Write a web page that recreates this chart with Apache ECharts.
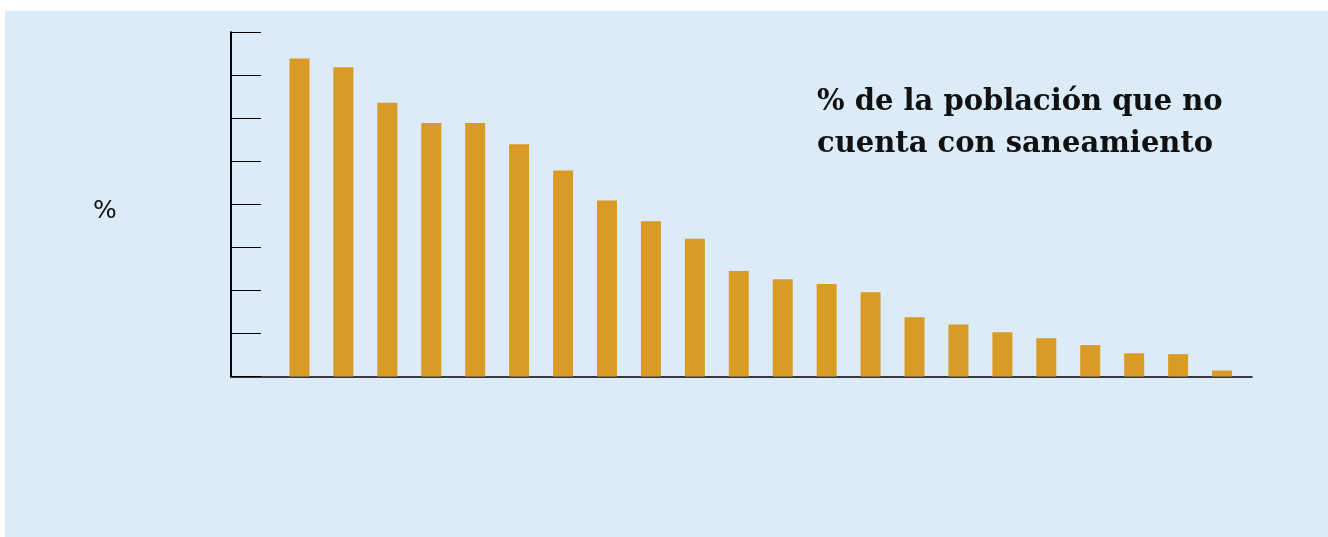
<!DOCTYPE html>
<html>
<head>
<meta charset="utf-8">
<script src="https://cdn.jsdelivr.net/npm/echarts@6/dist/echarts.min.js"></script>
<style>
html,body{margin:0;padding:0;background:#ffffff;}
#chart{width:1328px;height:537px;}
</style>
</head>
<body>
<div id="chart"></div>
<script>
const categories = ['1','2','3','4','5','6','7','8','9','10','11','12','13','14','15','16','17','18','19','20','21','22'];
const values = [73.9, 71.9, 63.6, 58.9, 58.9, 54.0, 47.9, 40.9, 36.1, 32.0, 24.5, 22.6, 21.5, 19.6, 13.8, 12.1, 10.3, 8.9, 7.3, 5.4, 5.2, 1.4];
const yMin = 0, yMax = 80, yInterval = 10;
const titleText = '% de la población que no\ncuenta con saneamiento';
const yName = '%';

const chart = echarts.init(document.getElementById('chart'));
const gridTop = 32.3, gridBottom = 537 - 376.5;
chart.setOption({
  backgroundColor: '#ffffff',
  animation: false,
  graphic: [
    { type: 'rect', z: -10, shape: { x: 5, y: 11, width: 1323, height: 526 }, style: { fill: '#dbebf8' } },
    { type: 'text', left: 817, top: 81, style: { text: titleText, font: 'bold 29px "DejaVu Serif"', fill: '#111', lineHeight: 42 } },
    { type: 'text', left: 93, top: 199, style: { text: yName, font: '25px "DejaVu Sans"', fill: '#111' } }
  ],
  grid: [
    { left: 231, right: 76, top: gridTop, bottom: gridBottom },
    { left: 277.5, width: 966.5, top: gridTop, bottom: gridBottom }
  ],
  xAxis: [
    { gridIndex: 0, type: 'value', min: 0, max: 1, axisLine: { show: true, lineStyle: { color: '#000', width: 1.5 } }, axisTick: { show: false }, axisLabel: { show: false }, splitLine: { show: false } },
    { gridIndex: 1, type: 'category', data: categories, show: false }
  ],
  yAxis: [
    { gridIndex: 0, type: 'value', min: yMin, max: yMax, interval: yInterval,
      axisLine: { show: true, lineStyle: { color: '#000', width: 2 } },
      axisTick: { show: true, inside: true, length: 30, lineStyle: { color: '#000', width: 1 } },
      axisLabel: { show: false }, splitLine: { show: false } },
    { gridIndex: 1, type: 'value', min: yMin, max: yMax, show: false, splitLine: { show: false } }
  ],
  series: [
    { type: 'bar', xAxisIndex: 1, yAxisIndex: 1, data: values, barWidth: 20, itemStyle: { color: '#d99b26' } }
  ]
});
</script>
</body>
</html>
